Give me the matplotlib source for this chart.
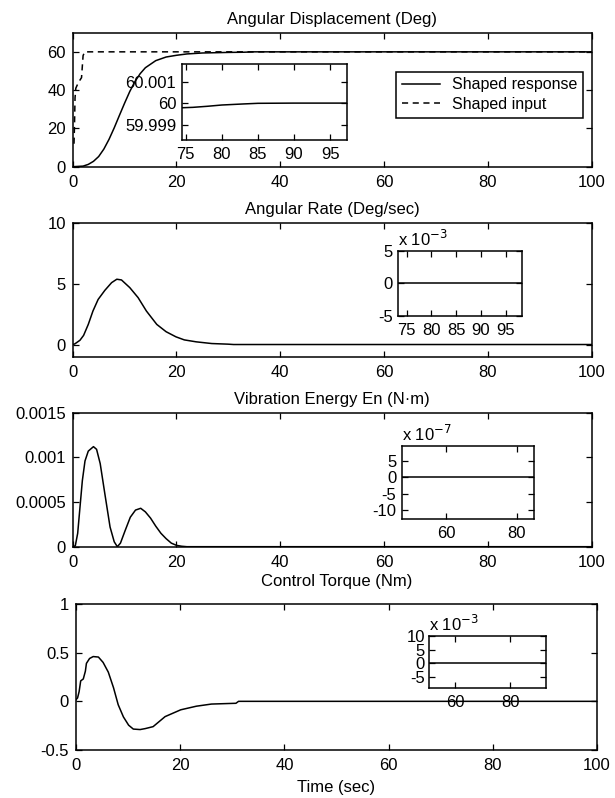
import matplotlib
matplotlib.use("Agg")
import matplotlib.pyplot as plt
import numpy as np

plt.rcParams['font.family'] = ['Liberation Sans', 'DejaVu Sans']
plt.rcParams['axes.unicode_minus'] = False
plt.rcParams['font.size'] = 12

# ---------------- data ----------------
# Angular displacement (deg)
disp_t = [0, 2, 3, 4, 5, 6, 7, 8, 9, 10, 11, 12, 13, 14, 16, 18, 20, 22, 25, 30, 33, 35, 100]
disp_v = [0, 0.3, 1.2, 2.8, 5.3, 9.2, 14.3, 20.3, 26.8, 33.2, 39.3, 44.5, 48.6, 51.7, 55.4, 57.3, 58.2, 58.9, 59.4, 59.7, 59.8, 60, 60]
inp_t = [0.25, 0.35, 0.45, 0.6, 1.1, 1.7, 2.0, 2.3, 100]
inp_v = [12, 22, 36, 41, 44, 46.5, 58, 60, 60]
# zoomed tail of displacement
tail_t = [74.4, 76, 78, 80, 83, 85, 90, 97.3]
tail_v = [59.99979, 59.99981, 59.99986, 59.99992, 59.99997, 60.0, 60.00001, 60.00001]

# Angular rate (deg/sec)
rate_t = [0, 0.4, 1.4, 2.1, 3.0, 3.9, 4.9, 6.2, 7.5, 8.5, 9.4, 11.0, 12.6, 14.2, 16.2, 18.0, 19.9, 21.5, 23.8, 26.8, 29.9, 31, 100]
rate_v = [0, 0.05, 0.35, 0.75, 1.65, 2.75, 3.7, 4.45, 5.08, 5.36, 5.3, 4.67, 3.85, 2.75, 1.65, 1.05, 0.63, 0.38, 0.22, 0.08, 0.03, 0, 0]
rate_tail_t = [73.3, 98.4]
rate_tail_v = [0.0, 0.0]

# Vibration energy (N·m)
en_t = [0, 0.5, 0.96, 1.4, 1.86, 2.37, 3.0, 4.0, 4.6, 5.3, 6.2, 7.2, 8.0, 8.6, 9.2, 10.1, 11.1, 12.1, 13.1, 14.0, 15.0, 16.0, 17.0, 18.0, 19.0, 20.0, 21.0, 22.0, 100]
en_v = [0, 0.00001, 0.00015, 0.00044, 0.00074, 0.00096, 0.00107, 0.00112, 0.00109, 0.00093, 0.00059, 0.00022, 0.000055, 0.0, 0.00004, 0.00018, 0.00033, 0.00041, 0.00043, 0.00039, 0.00032, 0.00023, 0.00015, 0.00009, 0.00004, 0.000015, 0.000005, 0, 0]
en_tail_t = [47.5, 85]
en_tail_v = [0.0, 0.0]

# Control torque (Nm)
tq_t = [0, 0.3, 0.6, 0.9, 1.4, 1.8, 2.0, 2.6, 3.3, 4.3, 5.2, 6.2, 7.2, 8.1, 9.1, 10.1, 11.0, 12.3, 13.3, 14.8, 17.1, 20.1, 23.1, 26.0, 30.7, 31.2, 100]
tq_v = [0.017, 0.035, 0.10, 0.21, 0.23, 0.31, 0.39, 0.44, 0.46, 0.455, 0.40, 0.30, 0.14, -0.035, -0.16, -0.245, -0.285, -0.29, -0.28, -0.26, -0.157, -0.087, -0.05, -0.028, -0.02, 0, 0]
tq_tail_t = [50.4, 92.8]
tq_tail_v = [0.0, 0.0]

titles = ["Angular Displacement (Deg)", "Angular Rate (Deg/sec)",
          "Vibration Energy En (N\u00b7m)", "Control Torque (Nm)"]
xticks_main = [0, 20, 40, 60, 80, 100]

# ---------------- layout ----------------
W, H = 615, 798
fig = plt.figure(figsize=(W / 100, H / 100), dpi=100)

def px_axes(l, r, t, b):
    return fig.add_axes([l / W, 1 - b / H, (r - l) / W, (b - t) / H])

def style(ax, size=12, xpad=6, ypad=5):
    ax.tick_params(direction='in', top=True, right=True, length=4, width=0.9,
                   labelsize=size)
    ax.tick_params(axis='x', pad=xpad)
    ax.tick_params(axis='y', pad=ypad)
    for s in ax.spines.values():
        s.set_linewidth(1.1)

lw = 1.1

# Panel 1
ax1 = px_axes(72.7, 591.7, 32.7, 166.7)
ax1.plot(disp_t, disp_v, color='k', lw=lw, label='Shaped response')
ax1.plot(inp_t, inp_v, color='k', lw=lw, ls=(0, (4, 3)), label='Shaped input')
ax1.set_xlim(0, 100); ax1.set_ylim(0, 70)
ax1.set_xticks(xticks_main); ax1.set_yticks([0, 20, 40, 60])
ax1.set_title(titles[0], fontsize=12, pad=6)
style(ax1)
leg = ax1.legend(loc='upper right', bbox_to_anchor=(0.983, 0.709), borderaxespad=0,
                 fancybox=False, edgecolor='k', framealpha=1, fontsize=11.5,
                 handlelength=2.4, handletextpad=0.75, borderpad=0.35, labelspacing=0.3)
leg.get_frame().set_linewidth(1.1)

# Panel 2
ax2 = px_axes(72.7, 591.7, 222.7, 356.7)
ax2.plot(rate_t, rate_v, color='k', lw=lw)
ax2.set_xlim(0, 100); ax2.set_ylim(-1, 10)
ax2.set_xticks(xticks_main); ax2.set_yticks([0, 5, 10])
ax2.set_title(titles[1], fontsize=12, pad=6)
style(ax2)

# Panel 3
ax3 = px_axes(72.7, 591.7, 412.7, 546.7)
ax3.plot(en_t, en_v, color='k', lw=lw)
ax3.set_xlim(0, 100); ax3.set_ylim(0, 0.0015)
ax3.set_xticks(xticks_main)
ax3.set_yticks([0, 0.0005, 0.001, 0.0015])
ax3.set_yticklabels(["0", "0.0005", "0.001", "0.0015"])
ax3.set_title(titles[2], fontsize=12, pad=6)
style(ax3)

# Panel 4
ax4 = px_axes(76, 597, 604, 750)
ax4.plot(tq_t, tq_v, color='k', lw=lw)
ax4.set_xlim(0, 100); ax4.set_ylim(-0.5, 1)
ax4.set_xticks(xticks_main); ax4.set_yticks([-0.5, 0, 0.5, 1])
ax4.set_yticklabels(["-0.5", "0", "0.5", "1"])
ax4.set_title(titles[3], fontsize=12, pad=13)
ax4.set_xlabel("Time (sec)", fontsize=12, labelpad=5)
style(ax4)

# Insets
i1 = px_axes(181.7, 346.7, 64.3, 140)
i1.plot(tail_t, tail_v, color='k', lw=lw)
i1.set_xlim(74.45, 97.3); i1.set_ylim(59.99827, 60.00184)
i1.set_xticks([75, 80, 85, 90, 95])
i1.set_yticks([59.999, 60, 60.001])
i1.set_yticklabels(["59.999", "60", "60.001"])
style(i1, xpad=5, ypad=4)

i2 = px_axes(398.3, 522.3, 250.6, 315.7)
i2.plot(rate_tail_t, rate_tail_v, color='k', lw=lw)
i2.set_xlim(73.3, 98.4); i2.set_ylim(-5e-3, 5e-3)
i2.set_xticks([75, 80, 85, 90, 95])
i2.set_yticks([-5e-3, 0, 5e-3]); i2.set_yticklabels(["-5", "0", "5"])
style(i2, xpad=5, ypad=4)
i2.text(0, 1.02, r"x 10$^{-3}$", transform=i2.transAxes, ha='left', va='bottom', fontsize=12)

i3 = px_axes(401.7, 534.3, 446, 519)
i3.plot(en_tail_t, en_tail_v, color='k', lw=lw)
i3.set_xlim(47.5, 85); i3.set_ylim(-12.75e-7, 9.6e-7)
i3.set_xticks([60, 80])
i3.set_yticks([-10e-7, -5e-7, 0, 5e-7]); i3.set_yticklabels(["-10", "-5", "0", "5"])
style(i3, xpad=5, ypad=4)
i3.text(0, 1.03, r"x 10$^{-7}$", transform=i3.transAxes, ha='left', va='bottom', fontsize=12)

i4 = px_axes(429, 545.7, 635.7, 688.3)
i4.plot(tq_tail_t, tq_tail_v, color='k', lw=lw)
i4.set_xlim(50.4, 92.8); i4.set_ylim(-9e-3, 10e-3)
i4.set_xticks([60, 80])
i4.set_yticks([-5e-3, 0, 5e-3, 10e-3]); i4.set_yticklabels(["-5", "0", "5", "10"])
style(i4, xpad=5, ypad=3)
i4.text(0, 1.04, r"x 10$^{-3}$", transform=i4.transAxes, ha='left', va='bottom', fontsize=12)

fig.savefig("out.png", dpi=100)
